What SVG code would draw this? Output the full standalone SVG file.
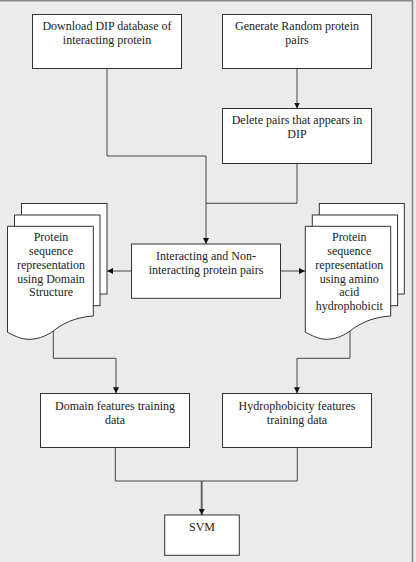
<svg xmlns="http://www.w3.org/2000/svg" width="416" height="562" viewBox="0 0 416 562">
<style>
.bx{fill:#fff;stroke:#333;stroke-width:1}
.t{font-family:"Liberation Serif","Times New Roman",serif;font-size:12px;fill:#222;text-anchor:middle}
.c{fill:none;stroke:#444;stroke-width:1}
</style>
<defs>
<marker id="ah" viewBox="0 0 10 10" refX="10" refY="5" markerWidth="6" markerHeight="6" markerUnits="userSpaceOnUse" orient="auto">
<path d="M0,0 L10,5 L0,10 Z" fill="#111"/>
</marker>
</defs>
<rect x="0" y="0" width="416" height="562" fill="#ebebeb"/>
<path d="M0,0.8 H412.5 V562" fill="none" stroke="#888" stroke-width="1.6"/>
<g id="connectors">
<path class="c" d="M297,68.5 V108.5" marker-end="url(#ah)"/>
<path class="c" d="M107,68.5 V156 H206 V244" marker-end="url(#ah)"/>
<path class="c" d="M297,163.5 V203.3 H206"/>
<path class="c" d="M131.5,271 H107" marker-end="url(#ah)"/>
<path class="c" d="M280.5,271 H305" marker-end="url(#ah)"/>
<path class="c" d="M53.3,331 V358.3 H116 V393.3" marker-end="url(#ah)"/>
<path class="c" d="M350,331 V358.3 H297 V393.3" marker-end="url(#ah)"/>
<path class="c" d="M115.3,447.5 V481 H297.3 V447.5"/>
<path d="M201.7,481 V515" fill="none" stroke="#666" stroke-width="2" marker-end="url(#ah)"/>
</g>
<g id="download">
<rect class="bx" x="32.5" y="14.5" width="149" height="54"/>
<text class="t" x="107" y="29.5">Download DIP database of</text>
<text class="t" x="107" y="43.8">interacting protein</text>
</g>
<g id="generate">
<rect class="bx" x="222.5" y="14.5" width="149" height="54"/>
<text class="t" x="297" y="29.5">Generate Random protein</text>
<text class="t" x="297" y="43.8">pairs</text>
</g>
<g id="delete">
<rect class="bx" x="222.5" y="108.5" width="149" height="55"/>
<text class="t" x="297" y="124">Delete pairs that appears in</text>
<text class="t" x="297" y="138.3">DIP</text>
</g>
<g id="interacting">
<rect class="bx" x="131.5" y="244" width="149" height="54.3"/>
<text class="t" x="206" y="260">Interacting and Non-</text>
<text class="t" x="206" y="274.3">interacting protein pairs</text>
</g>
<g id="doc-domain">
<rect class="bx" x="21.5" y="203.5" width="85.5" height="90.5"/>
<rect class="bx" x="14.5" y="215" width="85.5" height="90.7"/>
<path class="bx" d="M7.5,226.3 H93.3 V316 C75,317 62,324 53.3,331 C45,337 36,339.5 28,339.3 C20,339 13,335 7.5,332.3 Z"/>
<text class="t" x="51" y="241">Protein</text>
<text class="t" x="51" y="255.3">sequence</text>
<text class="t" x="51" y="269">representation</text>
<text class="t" x="51" y="282.8">using Domain</text>
<text class="t" x="51" y="296.3">Structure</text>
</g>
<g id="doc-hydro">
<rect class="bx" x="319.3" y="203.5" width="85" height="90.5"/>
<rect class="bx" x="312.3" y="215" width="85.3" height="90.7"/>
<path class="bx" d="M305.3,226.3 H390.7 V316 C372,317 359,324 350,331 C342,337 333,339.5 326,339.3 C318,339 311,335 305.3,332.3 Z"/>
<text class="t" x="349.3" y="241">Protein</text>
<text class="t" x="349.3" y="255.3">sequence</text>
<text class="t" x="349.3" y="269">representation</text>
<text class="t" x="349.3" y="282.8">using amino</text>
<text class="t" x="349.3" y="296.3">acid</text>
<text class="t" x="349.3" y="310.3">hydrophobicit</text>
</g>
<g id="domain">
<rect class="bx" x="40.5" y="393.5" width="149" height="54"/>
<text class="t" x="115" y="409.5">Domain features training</text>
<text class="t" x="115" y="423.8">data</text>
</g>
<g id="hydro">
<rect class="bx" x="222.5" y="393.5" width="149" height="54"/>
<text class="t" x="297" y="409.5">Hydrophobicity features</text>
<text class="t" x="297" y="423.8">training data</text>
</g>
<g id="svm">
<rect class="bx" x="164.7" y="515" width="74.6" height="40.3"/>
<text class="t" x="202" y="531">SVM</text>
</g>
</svg>
